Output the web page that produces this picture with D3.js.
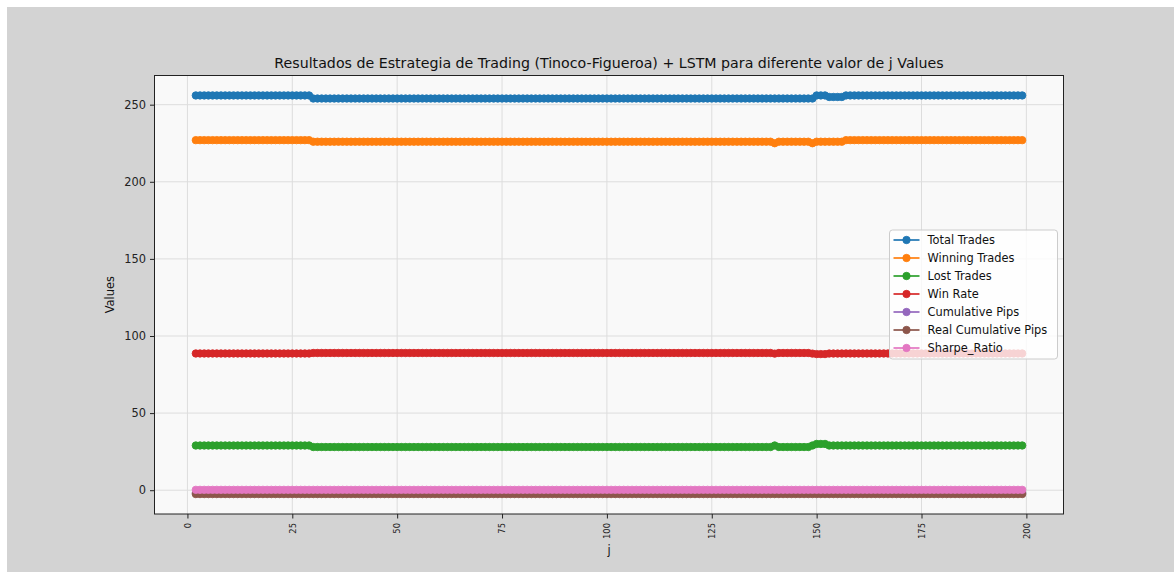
<!DOCTYPE html>
<html>
<head>
<meta charset="utf-8">
<script src="https://cdn.jsdelivr.net/npm/d3@7"></script>
<style>
  html, body { margin: 0; padding: 0; background: #ffffff; }
  svg { display: block; font-family: "DejaVu Sans", sans-serif; }
</style>
</head>
<body>
<svg id="chart" width="1174" height="572"></svg>
<script>
// Run-length data: [first j, last j, value]
const totalTradesRuns = [[2, 29, 256], [30, 149, 254], [150, 152, 256], [153, 156, 255], [157, 199, 256]];
const winningTradesRuns = [[2, 29, 227], [30, 139, 226], [140, 140, 225], [141, 148, 226], [149, 149, 225], [150, 156, 226], [157, 199, 227]];
const lostTradesRuns = [[2, 29, 29], [30, 139, 28], [140, 140, 29], [141, 148, 28], [149, 149, 29], [150, 152, 30], [153, 199, 29]];
const winRateRuns = [[2, 29, 88.67], [30, 139, 88.98], [140, 140, 88.58], [141, 148, 88.98], [149, 149, 88.58], [150, 152, 88.28], [153, 156, 88.63], [157, 199, 88.67]];
const cumulativePipsRuns = [[2, 199, -1.8]];
const realCumulativePipsRuns = [[2, 199, -2.5]];
const sharpeRatioRuns = [[2, 199, 0.25]];

const seriesNames = ["Total Trades", "Winning Trades", "Lost Trades", "Win Rate", "Cumulative Pips", "Real Cumulative Pips", "Sharpe_Ratio"];
const seriesRuns = [totalTradesRuns, winningTradesRuns, lostTradesRuns, winRateRuns, cumulativePipsRuns, realCumulativePipsRuns, sharpeRatioRuns];
const seriesColors = ["#1f77b4", "#ff7f0e", "#2ca02c", "#d62728", "#9467bd", "#8c564b", "#e377c2"];

const xTicks = [0, 25, 50, 75, 100, 125, 150, 175, 200];
const yTicks = [0, 50, 100, 150, 200, 250];

const titleText = "Resultados de Estrategia de Trading (Tinoco-Figueroa) + LSTM para diferente valor de j Values";

// expand runs into point lists
function expand(runs) {
  const pts = [];
  runs.forEach(([a, b, v]) => { for (let j = a; j <= b; j++) pts.push({ j, v }); });
  return pts;
}
const series = seriesNames.map((name, i) => ({ name, color: seriesColors[i], points: expand(seriesRuns[i]) }));

const svg = d3.select("#chart");
svg.append("rect").attr("width", 1174).attr("height", 572).attr("fill", "#ffffff");
svg.append("rect").attr("x", 7).attr("y", 7).attr("width", 1167).attr("height", 565).attr("fill", "#d3d3d3");

const plot = { left: 154.5, right: 1063.5, top: 75.5, bottom: 514 };

// data extents padded by 5% on each side
const allJ = series.flatMap(s => s.points.map(p => p.j));
const allV = series.flatMap(s => s.points.map(p => p.v));
const [jMin, jMax] = d3.extent(allJ);
const [vMin, vMax] = d3.extent(allV);
const jPad = (jMax - jMin) * 0.05, vPad = (vMax - vMin) * 0.05;

const x = d3.scaleLinear().domain([jMin - jPad, jMax + jPad]).range([plot.left, plot.right]);
const y = d3.scaleLinear().domain([vMin - vPad, vMax + vPad]).range([plot.bottom, plot.top]);

svg.append("rect")
  .attr("x", plot.left).attr("y", plot.top)
  .attr("width", plot.right - plot.left).attr("height", plot.bottom - plot.top)
  .attr("fill", "#f9f9f9");

// grid
const grid = svg.append("g");
grid.selectAll("line.gx").data(xTicks).join("line")
  .attr("x1", d => x(d)).attr("x2", d => x(d))
  .attr("y1", plot.top).attr("y2", plot.bottom)
  .attr("stroke", "#dddddd").attr("stroke-width", 1);
grid.selectAll("line.gy").data(yTicks).join("line")
  .attr("x1", plot.left).attr("x2", plot.right)
  .attr("y1", d => y(d)).attr("y2", d => y(d))
  .attr("stroke", "#dddddd").attr("stroke-width", 1);

// series: line then markers, in order
const clipId = "plotclip";
svg.append("clipPath").attr("id", clipId).append("rect")
  .attr("x", plot.left).attr("y", plot.top)
  .attr("width", plot.right - plot.left).attr("height", plot.bottom - plot.top);
const marks = svg.append("g").attr("clip-path", `url(#${clipId})`);
const line = d3.line().x(p => x(p.j)).y(p => y(p.v));
series.forEach(s => {
  const g = marks.append("g");
  g.append("path").attr("d", line(s.points))
    .attr("fill", "none").attr("stroke", s.color).attr("stroke-width", 1.7);
  g.selectAll("circle").data(s.points).join("circle")
    .attr("cx", p => x(p.j)).attr("cy", p => y(p.v)).attr("r", 3.7)
    .attr("fill", s.color).attr("stroke", s.color).attr("stroke-width", 0.9);
});

// axes
const xAxis = svg.append("g").attr("transform", `translate(0,${plot.bottom})`)
  .call(d3.axisBottom(x).tickValues(xTicks).tickSize(4.5).tickPadding(4).tickFormat(d3.format("d")));
xAxis.select(".domain").remove();
xAxis.selectAll(".tick line").attr("stroke", "#222");
xAxis.selectAll(".tick text")
  .attr("font-size", "8.4px").attr("fill", "#222")
  .attr("font-family", "DejaVu Sans")
  .attr("transform", "rotate(-90)")
  .attr("text-anchor", "end").attr("dy", "0.32em")
  .attr("x", -9).attr("y", 0);

const yAxis = svg.append("g").attr("transform", `translate(${plot.left},0)`)
  .call(d3.axisLeft(y).tickValues(yTicks).tickSize(4.5).tickPadding(4).tickFormat(d3.format("d")));
yAxis.select(".domain").remove();
yAxis.selectAll(".tick line").attr("stroke", "#222");
yAxis.selectAll(".tick text").attr("font-size", "11.4px").attr("fill", "#222").attr("font-family", "DejaVu Sans");

// spines
svg.append("rect")
  .attr("x", plot.left).attr("y", plot.top)
  .attr("width", plot.right - plot.left).attr("height", plot.bottom - plot.top)
  .attr("fill", "none").attr("stroke", "#222").attr("stroke-width", 1);

// title and labels
svg.append("text").attr("x", (plot.left + plot.right) / 2).attr("y", 68)
  .attr("text-anchor", "middle").attr("font-size", "14.2px").attr("fill", "#111").text(titleText);
svg.append("text").attr("x", (plot.left + plot.right) / 2).attr("y", 554)
  .attr("text-anchor", "middle").attr("font-size", "11.4px").attr("fill", "#111").text("j");
svg.append("text")
  .attr("transform", `translate(114,${(plot.top + plot.bottom) / 2}) rotate(-90)`)
  .attr("text-anchor", "middle").attr("font-size", "11.4px").attr("fill", "#111").text("Values");

// legend
const lg = svg.append("g").attr("transform", "translate(889.5,230)");
lg.append("rect").attr("width", 168).attr("height", 129).attr("rx", 3)
  .attr("fill", "#ffffff").attr("fill-opacity", 0.8).attr("stroke", "#cccccc").attr("stroke-width", 1);
series.forEach((s, i) => {
  const cy = 10 + i * 18;
  lg.append("line").attr("x1", 4).attr("x2", 30).attr("y1", cy).attr("y2", cy)
    .attr("stroke", s.color).attr("stroke-width", 1.7);
  lg.append("circle").attr("cx", 17).attr("cy", cy).attr("r", 3.7)
    .attr("fill", s.color).attr("stroke", s.color).attr("stroke-width", 0.9);
  lg.append("text").attr("x", 38).attr("y", cy).attr("dy", "0.35em")
    .attr("font-size", "11.4px").attr("fill", "#111").text(s.name);
});
</script>
</body>
</html>
